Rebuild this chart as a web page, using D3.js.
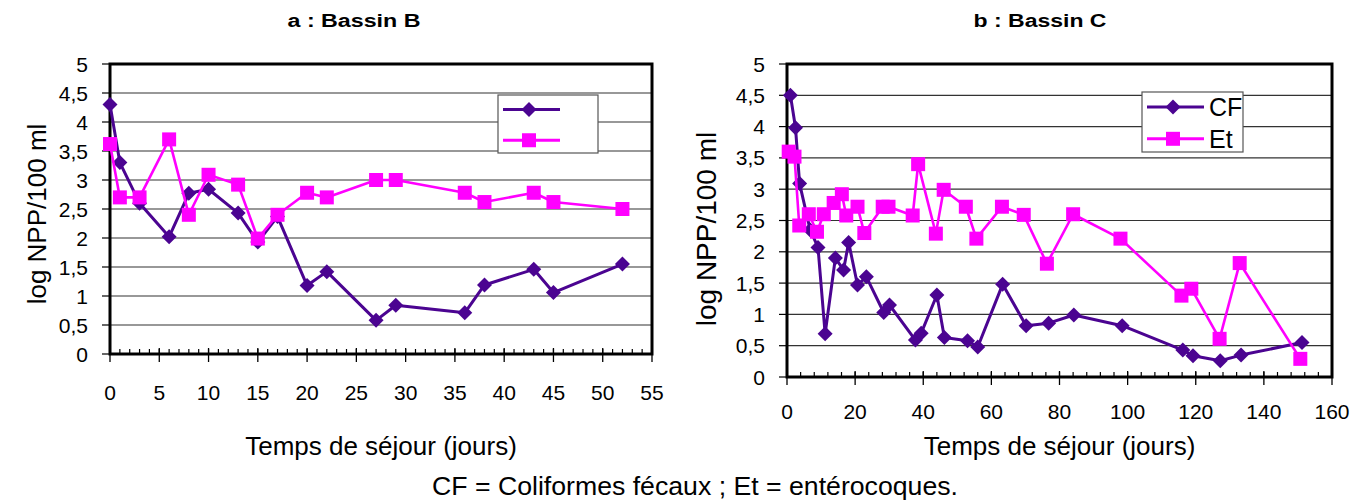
<!DOCTYPE html>
<html>
<head>
<meta charset="utf-8">
<script src="https://cdn.jsdelivr.net/npm/d3@7"></script>
<style>
  body { margin: 0; background: #fff; }
  svg text { font-family: "Liberation Sans", Arial, sans-serif; fill: #000; }
</style>
</head>
<body>
<svg id="chart" width="1364" height="501"></svg>
<script>
// ---- data ----
// a : Bassin B
var daysB = [0, 1, 3, 6, 8, 10, 13, 15, 17, 20, 22, 27, 29, 36, 38, 43, 45, 52];
var cfB   = [4.3, 3.3, 2.6, 2.02, 2.77, 2.84, 2.43, 1.93, 2.37, 1.18, 1.42, 0.58, 0.84, 0.71, 1.19, 1.46, 1.06, 1.55];
var etB   = [3.62, 2.7, 2.7, 3.7, 2.4, 3.09, 2.92, 1.99, 2.4, 2.78, 2.7, 3.0, 3.0, 2.78, 2.62, 2.78, 2.62, 2.5];

// b : Bassin C
var daysCcf = [1, 2.5, 3.7, 6.8, 9.1, 11.2, 14.2, 16.6, 18.1, 20.7, 23.3, 28.4, 30.1, 37.7, 39.4, 44, 46.2, 53, 56, 63.3, 70.2, 76.8, 84.2, 98.4, 116.2, 119.2, 127.2, 133.3, 151.2];
var cfC     = [4.5, 3.98, 3.09, 2.35, 2.07, 0.69, 1.9, 1.71, 2.15, 1.47, 1.6, 1.03, 1.15, 0.59, 0.7, 1.31, 0.63, 0.58, 0.48, 1.48, 0.82, 0.86, 0.99, 0.82, 0.43, 0.34, 0.26, 0.35, 0.55];
var daysCet = [0.5, 2.2, 3.6, 6.4, 8.8, 10.8, 13.7, 16.1, 17.4, 20.7, 22.7, 28.1, 29.8, 36.9, 38.5, 43.7, 46, 52.5, 55.6, 63.1, 69.5, 76.3, 84, 97.9, 115.8, 118.7, 127, 132.9, 150.7];
var etC     = [3.6, 3.52, 2.42, 2.6, 2.32, 2.6, 2.78, 2.92, 2.58, 2.72, 2.3, 2.72, 2.72, 2.58, 3.4, 2.29, 2.99, 2.72, 2.21, 2.72, 2.59, 1.81, 2.6, 2.21, 1.3, 1.41, 0.61, 1.82, 0.29];

var yTicks = [0, 0.5, 1, 1.5, 2, 2.5, 3, 3.5, 4, 4.5, 5];
var seriesNames = ["CF", "Et"];
var titles = ["a : Bassin B", "b : Bassin C"];
var xTitle = "Temps de séjour (jours)";
var yTitle = "log NPP/100 ml";
var caption = "CF = Coliformes fécaux ; Et = entérocoques.";

var colCF = "#4b0491", colEt = "#ff00ff";
var svg = d3.select("#chart");
var fmt = function(d){ return String(d).replace(".", ","); };

function diamond(s){ return "M0," + (-s) + "L" + s + ",0L0," + s + "L" + (-s) + ",0Z"; }

function drawPanel(p){
    var x = d3.scaleLinear().domain([0, p.xmax]).range([p.left, p.right]);
    var y = d3.scaleLinear().domain([0, 5]).range([p.bottom, p.top]);
    var g = svg.append("g");

    // gridlines
    g.selectAll(".grid").data(yTicks.slice(1, -1)).enter().append("line")
        .attr("x1", p.left).attr("x2", p.right)
        .attr("y1", function(d){ return y(d); }).attr("y2", function(d){ return y(d); })
        .attr("stroke", "#333").attr("stroke-width", 1.2);

    // y ticks + labels
    g.selectAll(".yt").data(yTicks).enter().append("line")
        .attr("x1", p.left - 8).attr("x2", p.left)
        .attr("y1", function(d){ return y(d); }).attr("y2", function(d){ return y(d); })
        .attr("stroke", "#000").attr("stroke-width", 1.2);
    g.selectAll(".yl").data(yTicks).enter().append("text")
        .attr("x", p.left - 22).attr("y", function(d){ return y(d) + 7.5; })
        .attr("text-anchor", "end").attr("font-size", 21).text(fmt);

    // x ticks
    var minor = d3.range(0, p.xmax + 0.001, p.minorStep);
    g.selectAll(".xm").data(minor).enter().append("line")
        .attr("x1", function(d){ return x(d); }).attr("x2", function(d){ return x(d); })
        .attr("y1", p.bottom - 5).attr("y2", p.bottom)
        .attr("stroke", "#000").attr("stroke-width", 1.2);
    var major = d3.range(0, p.xmax + 0.001, p.majorStep);
    g.selectAll(".xM").data(major).enter().append("line")
        .attr("x1", function(d){ return x(d); }).attr("x2", function(d){ return x(d); })
        .attr("y1", p.bottom - 6).attr("y2", p.bottom + 8)
        .attr("stroke", "#000").attr("stroke-width", 1.3);
    g.selectAll(".xl").data(major).enter().append("text")
        .attr("x", function(d){ return x(d); }).attr("y", p.bottom + p.labelOff)
        .attr("text-anchor", "middle").attr("font-size", 21).text(fmt);

    // frame
    g.append("rect").attr("x", p.left).attr("y", p.top)
        .attr("width", p.right - p.left).attr("height", p.bottom - p.top)
        .attr("fill", "none").attr("stroke", "#000").attr("stroke-width", 3);

    // legend box (drawn before series so markers sit on top)
    var lg = g.append("g");
    lg.append("rect").attr("x", p.leg[0]).attr("y", p.leg[1])
        .attr("width", p.leg[2]).attr("height", p.leg[3])
        .attr("fill", "#fff").attr("stroke", "#555").attr("stroke-width", 1.2);
    var rows = [p.leg[1] + p.leg[3] * 0.25, p.leg[1] + p.leg[3] * 0.78];
    [colCF, colEt].forEach(function(c, i){
        lg.append("line").attr("x1", p.leg[0] + 5).attr("x2", p.leg[0] + 62)
            .attr("y1", rows[i]).attr("y2", rows[i]).attr("stroke", c).attr("stroke-width", 3);
        var m = lg.append("path").attr("fill", c)
            .attr("transform", "translate(" + (p.leg[0] + 31) + "," + rows[i] + ")");
        m.attr("d", i === 0 ? diamond(7.5) : "M-7,-7H7V7H-7Z");
        if (p.legendText) {
            lg.append("text").attr("x", p.leg[0] + 67).attr("y", rows[i] + 9)
                .attr("font-size", 25).text(seriesNames[i]);
        }
    });

    var line = d3.line().x(function(d){ return x(d[0]); }).y(function(d){ return y(d[1]); });
    var cf = d3.zip(p.cfDays, p.cf), et = d3.zip(p.etDays, p.et);

    g.append("path").datum(cf).attr("d", line).attr("fill", "none")
        .attr("stroke", colCF).attr("stroke-width", 3).attr("stroke-linejoin", "round");
    g.selectAll(".cf").data(cf).enter().append("path")
        .attr("d", diamond(7.5)).attr("fill", colCF)
        .attr("transform", function(d){ return "translate(" + x(d[0]) + "," + y(d[1]) + ")"; });
    g.append("path").datum(et).attr("d", line).attr("fill", "none")
        .attr("stroke", colEt).attr("stroke-width", 2.6).attr("stroke-linejoin", "round");
    g.selectAll(".et").data(et).enter().append("rect")
        .attr("x", function(d){ return x(d[0]) - 7; }).attr("y", function(d){ return y(d[1]) - 7; })
        .attr("width", 14).attr("height", 14).attr("fill", colEt);

    // titles (the source text is a little stretched sideways)
    svg.append("text").attr("x", p.titleX).attr("y", 27).attr("text-anchor", "middle")
        .attr("font-size", 18).attr("font-weight", "bold")
        .attr("textLength", 133).attr("lengthAdjust", "spacingAndGlyphs").text(p.title);
    svg.append("text").attr("x", (p.left + p.right) / 2).attr("y", 455)
        .attr("text-anchor", "middle").attr("font-size", 26).text(xTitle);
    svg.append("text").attr("transform", "translate(" + p.yTitleX + "," + p.yTitleY + ") rotate(-90)")
        .attr("text-anchor", "middle").attr("font-size", p.yTitleSize).text(yTitle);
}

drawPanel({
    left: 110, right: 652, top: 64, bottom: 354, xmax: 55, majorStep: 5, minorStep: 1,
    labelOff: 46, cfDays: daysB, cf: cfB, etDays: daysB, et: etB,
    leg: [498, 95, 100, 58], legendText: false, title: titles[0], titleX: 354,
    yTitleX: 46, yTitleY: 214, yTitleSize: 26
});
drawPanel({
    left: 787, right: 1332, top: 64, bottom: 377, xmax: 160, majorStep: 20, minorStep: 4,
    labelOff: 42, cfDays: daysCcf, cf: cfC, etDays: daysCet, et: etC,
    leg: [1142, 92, 101, 60], legendText: true, title: titles[1], titleX: 1040,
    yTitleX: 716, yTitleY: 229, yTitleSize: 28
});

svg.append("text").attr("x", 695).attr("y", 495).attr("text-anchor", "middle")
    .attr("font-size", 25).attr("textLength", 526).attr("lengthAdjust", "spacingAndGlyphs")
    .text(caption);
</script>
</body>
</html>
